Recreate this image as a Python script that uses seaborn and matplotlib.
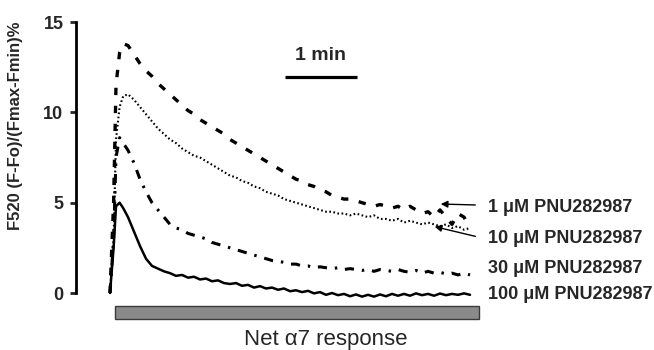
import numpy as np
import pandas as pd
import matplotlib
matplotlib.use("Agg")
import matplotlib.pyplot as plt
from matplotlib.patches import Rectangle
import seaborn as sns

# ---------------- data ----------------
time_s = [0, 3, 5, 8, 11, 15, 20, 25, 30, 35, 40, 45, 50, 55, 60, 65, 70, 75, 80, 85,
          90, 95, 100, 105, 110, 115, 120, 125, 130, 135, 140, 145, 150, 155, 160, 165,
          170, 175, 180, 185, 190, 195, 200, 205, 210, 215, 220, 225, 230, 235, 240,
          245, 250, 255, 260, 265, 270, 275, 280, 285, 290, 295, 300]

resp_1uM = [0, 5.0, 11.5, 13.3, 13.8, 13.7, 13.2, 12.7, 12.3, 12.0, 11.6, 11.3, 11.0, 10.7,
            10.4, 10.1, 9.9, 9.6, 9.4, 9.2, 9.0, 8.8, 8.5, 8.3, 8.1, 7.9, 7.7, 7.5, 7.3,
            7.1, 6.9, 6.7, 6.5, 6.3, 6.2, 6.0, 5.9, 5.7, 5.6, 5.4, 5.3, 5.2, 5.2, 5.1,
            5.0, 4.9, 4.8, 4.9, 4.8, 4.7, 4.8, 4.6, 4.8, 4.6, 4.4, 4.5, 4.2, 4.6, 4.2,
            3.8, 4.4, 4.2, 3.6]

resp_10uM = [0, 3.0, 8.5, 10.3, 10.9, 11.0, 10.7, 10.3, 9.9, 9.5, 9.1, 8.8, 8.5, 8.3,
             8.0, 7.8, 7.6, 7.5, 7.3, 7.1, 6.9, 6.7, 6.5, 6.4, 6.2, 6.1, 5.9, 5.8, 5.6,
             5.5, 5.4, 5.2, 5.1, 5.0, 4.9, 4.8, 4.7, 4.6, 4.5, 4.5, 4.4, 4.4, 4.3, 4.4,
             4.3, 4.2, 4.3, 4.1, 4.1, 4.0, 4.1, 3.9, 4.0, 3.9, 3.8, 3.9, 3.8, 3.7, 3.8,
             3.6, 3.7, 3.5, 3.6]

resp_30uM = [0, 3.0, 7.5, 8.6, 8.3, 7.9, 7.2, 6.3, 5.6, 5.0, 4.6, 4.2, 3.8, 3.6, 3.5,
             3.3, 3.2, 3.1, 3.0, 2.8, 2.7, 2.6, 2.5, 2.4, 2.3, 2.2, 2.1, 2.0, 1.9, 1.8,
             1.75, 1.7, 1.6, 1.6, 1.5, 1.5, 1.4, 1.45, 1.4, 1.35, 1.4, 1.3, 1.35, 1.3,
             1.25, 1.3, 1.2, 1.3, 1.25, 1.2, 1.3, 1.2, 1.15, 1.25, 1.1, 1.2, 1.1, 1.15,
             1.05, 1.1, 1.0, 1.1, 1.0]

resp_100uM = [0, 2.5, 4.8, 5.0, 4.7, 4.2, 3.4, 2.6, 1.9, 1.5, 1.35, 1.2, 1.1, 0.95, 1.0,
              0.85, 0.9, 0.75, 0.8, 0.65, 0.7, 0.55, 0.5, 0.55, 0.4, 0.45, 0.3, 0.38,
              0.25, 0.3, 0.18, 0.25, 0.1, 0.15, 0.05, 0.12, -0.02, 0.05, -0.1, 0.0,
              -0.12, -0.05, -0.18, -0.08, -0.2, -0.1, -0.2, -0.08, -0.18, -0.05, -0.15,
              -0.05, -0.15, -0.02, -0.12, -0.05, -0.15, -0.03, -0.12, -0.05, -0.1, -0.02,
              -0.1]

series_labels = ["1 μM PNU282987", "10 μM PNU282987", "30 μM PNU282987", "100 μM PNU282987"]
label_y = [4.76, 2.99, 1.38, -0.11]
y_ticks = [0, 5, 10, 15]
y_label = "F520 (F-Fo)/(Fmax-Fmin)%"
bar_label = "Net α7 response"
scale_label = "1 min"

# ---------------- plot ----------------
sns.set_style("white")
plt.rcParams["font.family"] = ["Liberation Sans", "DejaVu Sans"]

fig = plt.figure(figsize=(6.54, 3.5), dpi=100)
ax = fig.add_axes([76 / 654, 0.008, 578 / 654, 0.929])

styles = [
    dict(linewidth=2.4, linestyle=(0, (2.2, 3.2))),
    dict(linewidth=1.5, linestyle=(0, (0.8, 1.2))),
    dict(linewidth=2.2, linestyle=(0, (3.0, 2.6, 0.8, 2.6))),
    dict(linewidth=1.8, linestyle="-"),
]
all_series = [resp_1uM, resp_10uM, resp_30uM, resp_100uM]
for vals, st in zip(all_series, styles):
    df = pd.DataFrame({"t": time_s, "v": vals})
    sns.lineplot(data=df, x="t", y="v", ax=ax, color="black", estimator=None,
                 sort=False, legend=False, **st)

ax.set_xlim(-28.33, 453.3)
ax.set_ylim(-3.0, 15)
for s in ["top", "right", "bottom"]:
    ax.spines[s].set_visible(False)
ax.spines["left"].set_bounds(0, 15)
ax.spines["left"].set_linewidth(2)
ax.spines["left"].set_color("black")
ax.set_yticks(y_ticks)
ax.set_yticklabels([str(v) for v in y_ticks], fontsize=13, fontweight="bold")
ax.tick_params(axis="y", direction="out", length=4, width=2, pad=5, left=True)
ax.set_xticks([])
ax.set_xlabel("")
ax.set_ylabel(y_label, fontsize=12, fontweight="bold")
ax.yaxis.set_label_coords(-0.092, 0.682)

# series labels
for lab, yy in zip(series_labels, label_y):
    ax.text(315, yy, lab, fontsize=13, fontweight="bold", ha="left", va="center",
            clip_on=False)

# arrows
ax.annotate("", xy=(273.3, 4.93), xytext=(306.7, 4.87),
            arrowprops=dict(arrowstyle="-|>", color="black", lw=1, mutation_scale=10))
ax.annotate("", xy=(268.3, 3.71), xytext=(306.7, 3.10),
            arrowprops=dict(arrowstyle="-|>", color="black", lw=1, mutation_scale=10))

# scale bar
ax.plot([145.8, 205.8], [11.95, 11.95], color="black", lw=2.3, solid_capstyle="butt")
ax.text(175.8, 13.17, scale_label, fontsize=14, fontweight="bold", ha="center",
        va="center")

# gray application bar
ax.add_patch(Rectangle((4.2, -1.44), 303.3, 0.74, facecolor="#8a8a8a",
                       edgecolor="#3a3a3a", lw=1, clip_on=False))
ax.text(180, -2.6, bar_label, fontsize=16, ha="center", va="center", clip_on=False)

fig.savefig("out.png", dpi=100)
